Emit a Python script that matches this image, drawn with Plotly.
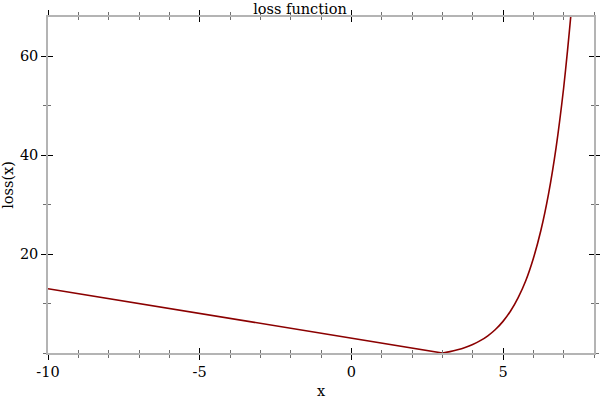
import plotly.graph_objects as go

# Left (linear) branch of the loss curve
x_left = [-10, 3]
y_left = [13, 0]

# Right (steep) branch
x_right = [3, 3.25, 3.5, 3.75, 4, 4.25, 4.5, 4.75, 5, 5.25, 5.5, 5.75, 6,
           6.25, 6.5, 6.75, 7, 7.125, 7.25, 7.375, 7.5]
y_right = [0, 0.28, 0.65, 1.12, 1.72, 2.49, 3.48, 4.75, 6.39, 8.49, 11.2,
           14.6, 19.1, 24.8, 32.1, 41.5, 53.6, 61.0, 69.1, 78.0, 89.0]

x_major = [-10, -5, 0, 5]
x_labels = ["-10", "-5", "0", "5"]
y_major = [20, 40, 60]
y_labels = ["20", "40", "60"]

X_RANGE = [-10, 8]
Y_RANGE = [0, 67.9]

LINE = "#8b0000"
FRAME = "#b4b4b4"
FONT = dict(family="DejaVu Serif", size=14.5, color="black")

fig = go.Figure()
fig.add_trace(go.Scatter(x=x_left, y=y_left, mode="lines",
                         line=dict(color=LINE, width=1.6),
                         xaxis="x", yaxis="y", showlegend=False))
fig.add_trace(go.Scatter(x=x_right, y=y_right, mode="lines",
                         line=dict(color=LINE, width=1.6, shape="spline", smoothing=0.6),
                         xaxis="x2", yaxis="y2", showlegend=False, cliponaxis=True))

common_x = dict(range=X_RANGE, showgrid=False, zeroline=False, automargin=False,
                showline=True, linecolor=FRAME, linewidth=1.5, mirror="ticks",
                tickvals=x_major, tickcolor="black", tickwidth=1, ticklen=5,
                minor=dict(dtick=1, tick0=0, ticklen=3, tickcolor="#707070",
                           tickwidth=1))
common_y = dict(range=Y_RANGE, showgrid=False, zeroline=False, automargin=False,
                showline=True, linecolor=FRAME, linewidth=1.5, mirror="ticks",
                tickvals=y_major, tickcolor="black", tickwidth=1, ticklen=5,
                minor=dict(dtick=10, tick0=0, ticklen=3, tickcolor="#707070",
                           tickwidth=1))

TITLE_FONT = dict(family="DejaVu Serif", size=14.5, color="black")

fig.update_layout(
    width=600, height=400,
    margin=dict(l=48, r=6, t=17, b=47, autoexpand=False),
    paper_bgcolor="white", plot_bgcolor="white",
    font=FONT,
    title=dict(text="loss function", x=0.5, xanchor="center",
               y=1 - 9 / 400, yanchor="middle", yref="container",
               font=TITLE_FONT),
    xaxis=dict(**common_x, ticks="outside", ticktext=x_labels,
               title=dict(text="x", standoff=7, font=TITLE_FONT),
               minor_ticks="outside"),
    yaxis=dict(**common_y, ticks="outside", ticktext=y_labels,
               title=dict(text="loss(x)", standoff=5, font=TITLE_FONT),
               minor_ticks="outside"),
    xaxis2=dict(**common_x, ticks="inside", overlaying="x", matches="x",
                showticklabels=False, minor_ticks="inside"),
    yaxis2=dict(**common_y, ticks="inside", overlaying="y", matches="y",
                showticklabels=False, minor_ticks="inside"),
)

fig.write_html("out.html", config={"displayModeBar": False},
               post_script="document.body.style.margin='0';document.body.style.overflow='hidden';")
